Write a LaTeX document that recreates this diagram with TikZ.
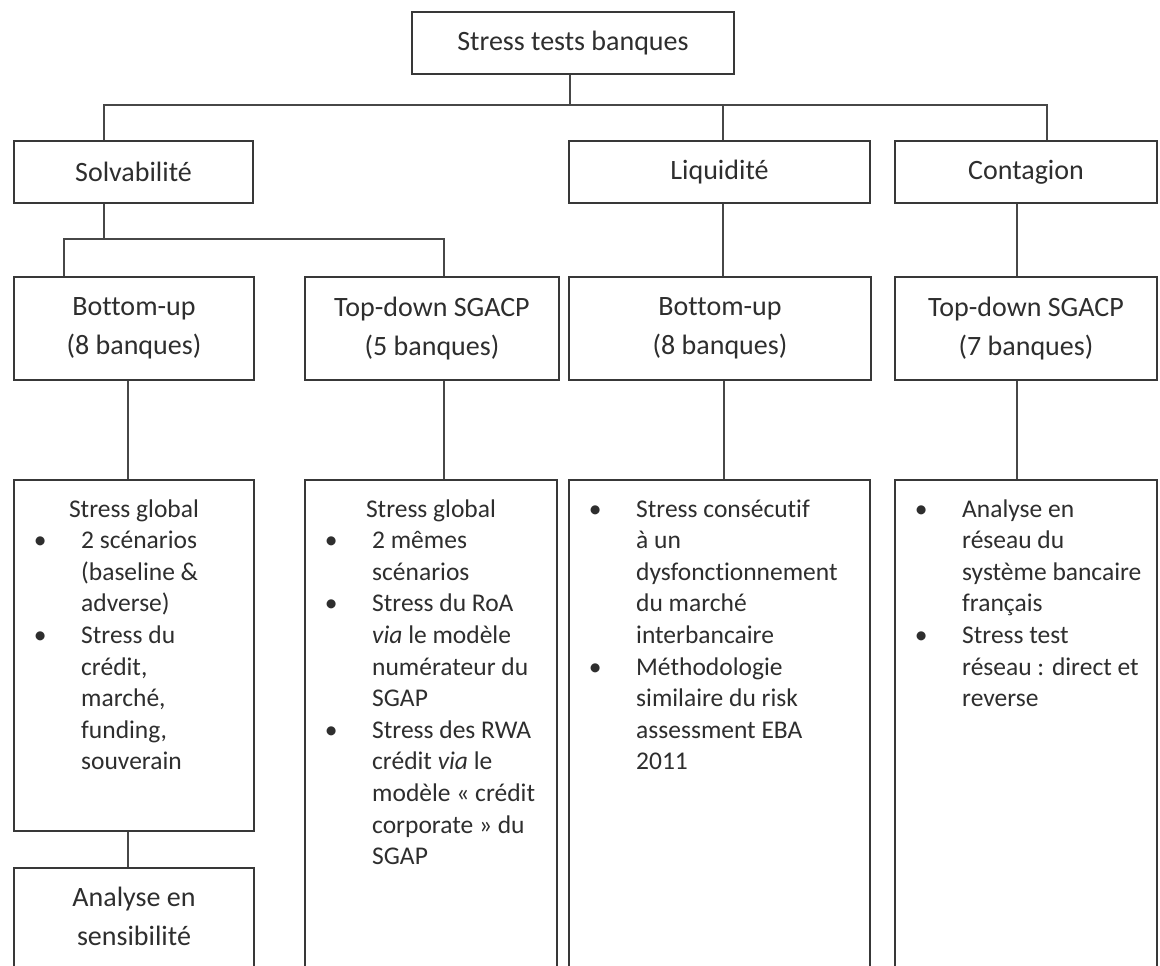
\documentclass[tikz,border=0pt]{standalone}
\usepackage{fontspec}
\setmainfont{Carlito}[Ligatures=NoCommon]
\usetikzlibrary{fit}
\newcommand{\blt}{\llap{\makebox[0pt]{\textbullet}\hspace{41pt}}}
\begin{document}
\begin{tikzpicture}[x=1pt,y=-1pt,
  box/.style={draw=black!78, line width=2.4pt, inner sep=0pt},
  hd/.style={font=\fontsize{28pt}{39pt}\selectfont, text=black!82, align=center, inner sep=0pt},
  link/.style={draw=black!72, line width=1.8pt},
  bl/.style={font=\fontsize{25.5pt}{31.6pt}\selectfont, text=black!82, inner sep=0pt}]
\useasboundingbox (0,0) rectangle (1160,966);
\fill[white] (0,0) rectangle (1160,966);
\clip (0,0) rectangle (1160,966);
% boxes
\node[box, fit={(412,12) (734,74)}] (root) {};
\node[box, fit={(14,141) (253,203)}] (solv) {};
\node[box, fit={(569,141) (870,203)}] (liq) {};
\node[box, fit={(895,141) (1157,203)}] (cont) {};
\node[box, fit={(14,277) (254,380)}] (bu1) {};
\node[box, fit={(305,277) (559,380)}] (td1) {};
\node[box, fit={(569,277) (871,380)}] (bu2) {};
\node[box, fit={(895,277) (1157,380)}] (td2) {};
\node[box, fit={(14,480) (254,831)}] (sa) {};
\node[box, fit={(305,480) (557,995)}] (sb) {};
\node[box, fit={(569,480) (870,995)}] (sc) {};
\node[box, fit={(895,480) (1157,995)}] (sd) {};
\node[box, fit={(14,868) (254,995)}] (an) {};
% headings
\node[hd] (roott) at (root.center) {Stress tests banques};
\node[hd] (solvt) at (solv.center) {Solvabilité};
\node[hd] (liqt) at (liq.center) {Liquidité};
\node[hd] (contt) at (cont.center) {Contagion};
\node[hd] (bu1t) at (bu1.center) {Bottom-up\\(8 banques)};
\node[hd] (td1t) at (td1.center) {Top-down SGACP\\(5 banques)};
\node[hd] (bu2t) at (bu2.center) {Bottom-up\\(8 banques)};
\node[hd] (td2t) at (td2.center) {Top-down SGACP\\(7 banques)};
\node[hd] (ant) at (134,916) {Analyse en\\sensibilité};
% texts of the detail boxes
\node[bl, anchor=base] (sah) at (134,517) {Stress global};
\node[bl, anchor=base west] (sat) at (81,548.6) {\begin{tabular}[t]{@{}l@{}}\blt 2 scénarios\\(baseline \&\\adverse)\\\blt Stress du\\crédit,\\marché,\\funding,\\souverain\end{tabular}};
\node[bl, anchor=base] (sbh) at (431,517) {Stress global};
\node[bl, anchor=base west] (sbt) at (372,548.6) {\begin{tabular}[t]{@{}l@{}}\blt 2 mêmes\\scénarios\\\blt Stress du RoA\\\textit{via} le modèle\\numérateur du\\SGAP\\\blt Stress des RWA\\crédit \textit{via} le\\modèle « crédit\\corporate » du\\SGAP\end{tabular}};
\node[bl, anchor=base west] (sct) at (636,517) {\begin{tabular}[t]{@{}l@{}}\blt Stress consécutif\\à un\\dysfonctionnement\\du marché\\interbancaire\\\blt Méthodologie\\similaire du risk\\assessment EBA\\2011\end{tabular}};
\node[bl, anchor=base west] (sdt) at (962,517) {\begin{tabular}[t]{@{}l@{}}\blt Analyse en\\réseau du\\système bancaire\\français\\\blt Stress test\\réseau : direct et\\reverse\end{tabular}};
% connectors
\coordinate (b1) at (570,105);
\coordinate (b2) at (104,239);
\coordinate (rs) at ([xshift=-3pt]root.south);
\draw[link] (rs) -- (rs |- b1);
\draw[link] ([xshift=-29.5pt]solv.north) |- (b1) -| ([xshift=21pt]cont.north);
\coordinate (lq) at ([xshift=3.5pt]liq.north);
\draw[link] (lq) -- (lq |- b1);
\draw[link] ([xshift=-29.5pt]solv.south) -- (b2);
\draw[link] ([xshift=-70pt]bu1.north) |- (b2) -| ([xshift=12pt]td1.north);
\coordinate (lqs) at ([xshift=3.5pt]liq.south);
\draw[link] (lqs) -- (lqs |- bu2.north);
\draw[link] ([xshift=-9pt]cont.south) -- ([xshift=-9pt]td2.north);
\draw[link] ([xshift=-6pt]bu1.south) -- ([xshift=-6pt]sa.north);
\draw[link] ([xshift=12pt]td1.south) -- ([xshift=13pt]sb.north);
\coordinate (bus) at ([xshift=4pt]bu2.south);
\draw[link] (bus) -- (bus |- sc.north);
\draw[link] ([xshift=-9pt]td2.south) -- ([xshift=-9pt]sd.north);
\draw[link] ([xshift=-6pt]sa.south) -- ([xshift=-6pt]an.north);
\end{tikzpicture}
\end{document}
